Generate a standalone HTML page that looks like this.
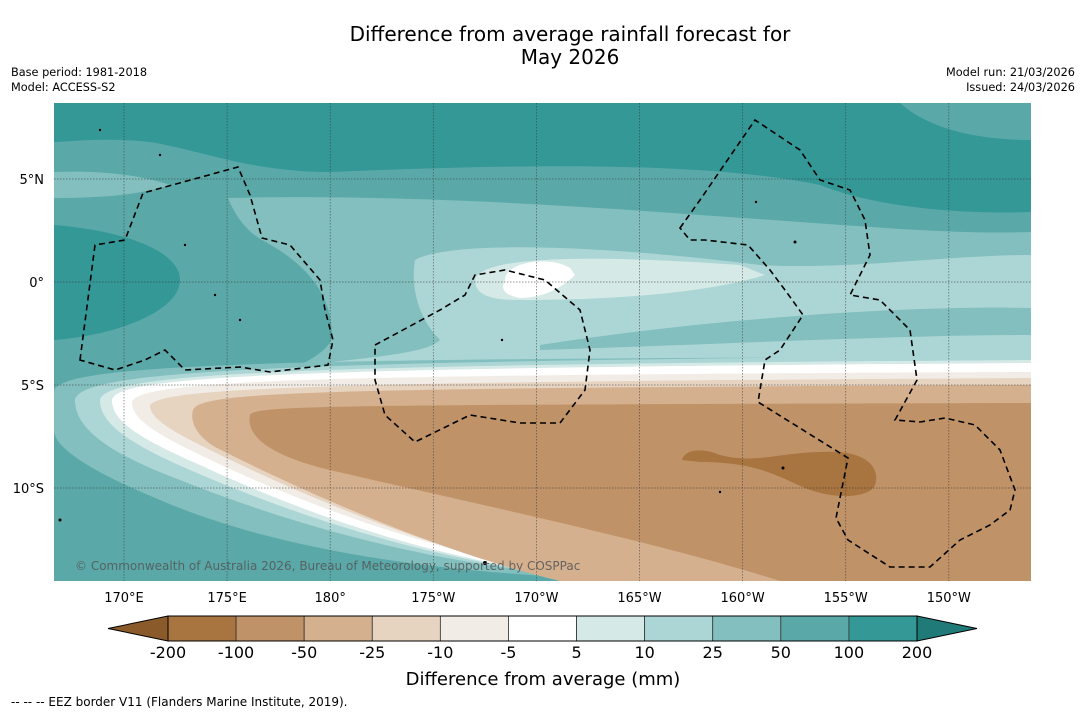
<!DOCTYPE html>
<html><head><meta charset="utf-8"><style>
body{margin:0;background:#fff;width:1085px;height:713px;overflow:hidden;font-family:"Liberation Sans","DejaVu Sans",sans-serif;}
svg text{font-family:"DejaVu Sans","Liberation Sans",sans-serif;}
</style></head><body>
<svg id="chart" width="1085" height="713" viewBox="0 0 1085 713" xmlns="http://www.w3.org/2000/svg">
<text x="570" y="41" font-size="20" text-anchor="middle">Difference from average rainfall forecast for</text>
<text x="570" y="64" font-size="20" text-anchor="middle">May 2026</text>
<text x="11" y="76" font-size="11.3">Base period: 1981-2018</text>
<text x="11" y="91" font-size="11.3">Model: ACCESS-S2</text>
<text x="1075" y="76" font-size="11.3" text-anchor="end">Model run: 21/03/2026</text>
<text x="1075" y="91" font-size="11.3" text-anchor="end">Issued: 24/03/2026</text>
<defs><clipPath id="mc"><rect x="54" y="103" width="977" height="478"/></clipPath></defs>
<g id="map" clip-path="url(#mc)">
<rect x="54" y="103" width="977" height="478" fill="#5aa9a8"/>
<path fill="#349897" d="M54 103 H1031 V212 C950 215,870 205,820 185 C700 160,500 165,330 172 C250 172,200 150,150 142 C100 137,70 142,54 142 Z"/>
<path fill="#5aa9a8" d="M900 103 H1031 V140 C980 140,930 130,900 103 Z"/>
<path fill="#82bfbe" d="M54 172 C100 170,140 175,170 185 C140 195,100 198,54 198 Z"/>
<path fill="#349897" d="M54 225 C120 230,180 250,180 280 C180 310,120 335,54 340 Z"/>
<path fill="#82bfbe" d="M228 198 C350 195,500 200,700 215 C850 225,950 235,1031 232 V365 H300 C320 355,332 345,332 335 C332 290,300 260,262 240 C245 230,235 215,228 198 Z"/>
<path fill="#acd6d5" d="M415 260 C450 240,600 245,760 265 C850 270,950 255,1031 255 V362 H330 C400 355,430 350,440 340 C420 320,410 290,415 260 Z"/>
<path fill="#82bfbe" d="M540 345 C700 320,900 305,1031 308 V335 C900 335,700 345,540 350 Z"/>
<path fill="#d5e9e7" d="M475 280 C480 255,600 255,740 265 L765 275 C700 295,600 300,520 300 C490 300,475 295,475 280 Z"/>
<path fill="#ffffff" d="M505 280 C505 262,550 255,570 268 L575 275 C560 290,540 298,520 298 C505 295,500 290,505 280 Z"/>
<path fill="#82bfbe" d="M54 392 C54 362,300 358,1031 357 V581 H720 C500 581,300 560,160 500 C100 475,54 450,54 430 Z"/>
<path fill="#acd6d5" d="M75 400 C80 368,300 362,1031 355 V581 H690 C500 580,330 540,180 480 C100 450,75 425,75 400 Z"/>
<path fill="#d5e9e7" d="M100 400 C105 372,300 365,1031 360 V581 H660 C500 578,340 535,190 470 C120 440,100 420,100 400 Z"/>
<path fill="#ffffff" d="M112 400 C115 375,300 368,1031 363 V581 H640 C500 575,350 535,200 465 C130 435,112 418,112 400 Z"/>
<path fill="#f2ece6" d="M132 402 C140 380,300 375,1031 372 V581 H610 C480 565,320 515,190 450 C145 428,132 415,132 402 Z"/>
<path fill="#e6d3c0" d="M150 405 C165 388,300 382,1031 378 V581 H585 C460 560,320 505,200 445 C160 425,150 415,150 405 Z"/>
<path fill="#d4b08e" d="M193 410 C200 392,300 388,1031 385 V581 H560 C450 555,320 500,215 447 C195 435,190 420,193 410 Z"/>
<path fill="#bf9268" d="M250 415 C255 405,330 405,1031 403 V581 H780 C650 540,480 505,330 470 C280 458,245 440,250 415 Z"/>
<path fill="#a87440" d="M682 460 C685 450,700 447,720 455 C760 465,780 450,840 452 C870 455,880 470,875 485 C870 497,840 500,810 490 C780 478,760 462,700 462 Z"/>
<g id="grid" stroke="#333" stroke-width="0.7" stroke-dasharray="1.5,1.5" opacity="0.7"></g>
<g fill="none" stroke="#000" stroke-width="1.6" stroke-dasharray="6,4">
<path d="M80 360 L95 245 L125 240 L143 193 L238 167 L250 195 L262 238 L290 245 L320 280 L325 310 L333 340 L328 365 L270 372 L240 367 L185 370 L165 350 L145 360 L115 370 Z"/>
<path d="M375 345 L440 310 L465 295 L475 275 L505 270 L545 280 L580 310 L590 350 L585 390 L560 423 L520 423 L470 415 L415 442 L385 415 L375 380 Z"/>
<path d="M680 228 L700 200 L755 120 L770 130 L800 150 L820 180 L850 190 L865 220 L870 255 L850 295 L880 300 L910 330 L917 380 L895 420 L920 422 L945 418 L975 425 L1000 450 L1015 490 L1010 510 L990 525 L960 540 L930 567 L890 567 L848 540 L836 518 L848 458 L758 402 L765 360 L780 350 L803 315 L785 290 L770 270 L748 245 L705 240 L690 240 Z"/>
</g>
<g fill="#000">
<circle cx="100" cy="130" r="1.2"/><circle cx="160" cy="155" r="1.2"/><circle cx="185" cy="245" r="1.2"/><circle cx="215" cy="295" r="1.2"/><circle cx="240" cy="320" r="1.2"/><circle cx="783" cy="468" r="1.5"/><circle cx="795" cy="242" r="1.5"/><circle cx="756" cy="202" r="1.2"/><circle cx="502" cy="340" r="1.2"/><circle cx="720" cy="492" r="1.2"/><circle cx="485" cy="563" r="2"/><circle cx="60" cy="520" r="1.5"/>
</g>
</g>
<text x="75" y="570" font-size="12" fill="#555" opacity="0.85">© Commonwealth of Australia 2026, Bureau of Meteorology, supported by COSPPac</text>
<g id="axes" font-size="13"></g>
<g id="cbar"></g>
<text x="543" y="685" font-size="18" text-anchor="middle">Difference from average (mm)</text>
<text x="11" y="706" font-size="12">--  --  -- EEZ border V11 (Flanders Marine Institute, 2019).</text>
</svg>
<script>
const lonLabels=["170°E","175°E","180°","175°W","170°W","165°W","160°W","155°W","150°W"];
const lonValues=[170,175,180,185,190,195,200,205,210];
const latLabels=["5°N","0°","5°S","10°S"];
const latValues=[5,0,-5,-10];
const cbLabels=["-200","-100","-50","-25","-10","-5","5","10","25","50","100","200"];
const cbColors=["#a87440","#bf9268","#d4b08e","#e6d3c0","#f2ece6","#ffffff","#d5e9e7","#acd6d5","#82bfbe","#5aa9a8","#349897"];
const cbExtendColors=["#8a5a2a","#1f7a78"];
const NS="http://www.w3.org/2000/svg";
const xLon=l=>124+(l-170)*20.62;
const yLat=l=>282-l*20.6;
const grid=document.getElementById('grid'),axes=document.getElementById('axes'),cb=document.getElementById('cbar');
function mk(t,a,p){const e=document.createElementNS(NS,t);for(const k in a)e.setAttribute(k,a[k]);p.appendChild(e);return e;}
lonValues.forEach((v,i)=>{
 const l=mk('line',{x1:xLon(v),x2:xLon(v),y1:103,y2:581},grid);
 
 
 const t=mk('text',{x:xLon(v),y:602,'text-anchor':'middle'},axes);t.textContent=lonLabels[i];
 
 
});
latValues.forEach((v,i)=>{
 const l=mk('line',{x1:54,x2:1031,y1:yLat(v),y2:yLat(v)},grid);
 
 
 const t=mk('text',{x:44,y:yLat(v)+5,'text-anchor':'end'},axes);t.textContent=latLabels[i];
 
 
});
const x0=168,x1=917,y0=616,h=25,w=(x1-x0)/cbColors.length;
let lt=mk('polygon',{points:`${x0},${y0} ${x0},${y0+h} 108,${y0+h/2}`,fill:cbExtendColors[0],stroke:'#000','stroke-width':1},cb);


let rt=mk('polygon',{points:`${x1},${y0} ${x1},${y0+h} 977,${y0+h/2}`,fill:cbExtendColors[1],stroke:'#000','stroke-width':1},cb);


cbColors.forEach((c,i)=>{
 const r=mk('rect',{x:x0+i*w,y:y0,width:w,height:h,fill:c,stroke:'#333','stroke-width':0.8},cb);
 
 
});
mk('rect',{x:x0,y:y0,width:x1-x0,height:h,fill:'none',stroke:'#000','stroke-width':1},cb);
cbLabels.forEach((s,i)=>{
 const t=mk('text',{x:x0+i*w,y:658,'text-anchor':'middle','font-size':16},cb);t.textContent=s;
 
 
});
</script>
</body></html>
